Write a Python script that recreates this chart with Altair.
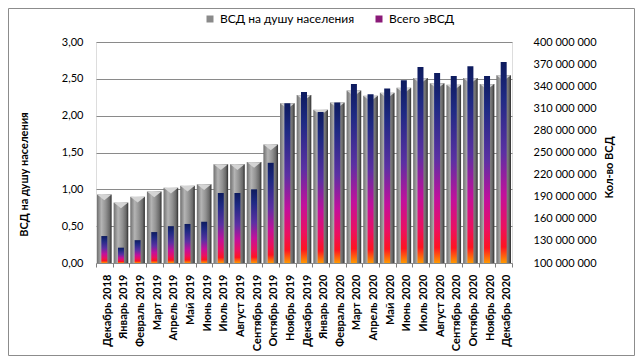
import altair as alt
import pandas as pd

months = ["Декабрь 2018", "Январь 2019", "Февраль 2019", "Март 2019", "Апрель 2019",
          "Май 2019", "Июнь 2019", "Июль 2019", "Август 2019", "Сентябрь 2019",
          "Октябрь 2019", "Ноябрь 2019", "Декабрь 2019", "Январь 2020", "Февраль 2020",
          "Март 2020", "Апрель 2020", "Май 2020", "Июнь 2020", "Июль 2020",
          "Август 2020", "Сентябрь 2020", "Октябрь 2020", "Ноябрь 2020", "Декабрь 2020"]
vsd_per_capita = [0.93, 0.82, 0.90, 0.97, 1.02, 1.05, 1.07, 1.34, 1.34, 1.37,
                  1.61, 2.17, 2.28, 2.08, 2.18, 2.34, 2.27, 2.31, 2.38, 2.51,
                  2.44, 2.42, 2.51, 2.43, 2.55]
evsd_total = [136600000, 120800000, 131000000, 142000000, 150000000, 153000000,
              156000000, 195000000, 195000000, 200000000, 236000000, 317000000,
              332000000, 305000000, 318000000, 343000000, 329000000, 337000000,
              348000000, 366000000, 358000000, 354000000, 367000000, 354000000,
              373000000]
series_names = ["ВСД на душу населения", "Всего эВСД"]
left_ticks = [0, 0.5, 1.0, 1.5, 2.0, 2.5, 3.0]
right_ticks = list(range(100000000, 400000001, 30000000))

df = pd.DataFrame({"month": months, "vsd": vsd_per_capita, "evsd": evsd_total})
leg_df = pd.DataFrame({"series": series_names})

W, H = 416, 221
FONT = "Lato"

xenc = alt.X("month:N", sort=months, title=None,
             scale=alt.Scale(paddingInner=0, paddingOuter=0),
             axis=alt.Axis(labelAngle=-90, labelAlign="right", labelBaseline="middle",
                           labelFontWeight="bold", labelFontSize=11, labelPadding=7,
                           labelOffset=3, labelColor="#000000", tickBand="extent",
                           ticks=True, tickSize=4, tickColor="#808080", domain=False,
                           labelFont=FONT))

gray_grad = alt.Gradient(gradient="linear", x1=0, x2=1, y1=0, y2=0, stops=[
    alt.GradientStop(color="#6f6f6f", offset=0),
    alt.GradientStop(color="#b4b4b4", offset=0.3),
    alt.GradientStop(color="#929292", offset=0.6),
    alt.GradientStop(color="#6a6a6a", offset=0.85),
    alt.GradientStop(color="#2e2e2e", offset=1)])

evsd_grad = alt.Gradient(gradient="linear", x1=0, x2=0, y1=0, y2=1, stops=[
    alt.GradientStop(color="#0d1b5e", offset=0),
    alt.GradientStop(color="#1f2a84", offset=0.18),
    alt.GradientStop(color="#5b30a3", offset=0.45),
    alt.GradientStop(color="#c2109c", offset=0.66),
    alt.GradientStop(color="#ec1060", offset=0.82),
    alt.GradientStop(color="#ff1420", offset=0.92),
    alt.GradientStop(color="#ff9a00", offset=1)])

left_axis = alt.Axis(values=left_ticks, grid=True, gridColor="#8a8a8a",
                     ticks=False, domain=False, labelPadding=13, labelOverlap=False,
                     labelFontSize=11, labelColor="#000000", labelFont=FONT,
                     labelExpr="replace(format(datum.value, '.2f'), '.', ',')",
                     title="ВСД на душу населения", titleFontSize=11,
                     titleFontWeight="bold", titleFont=FONT, titleColor="#000000",
                     titleX=-72, titleY=132, titleAngle=270,
                     titleAlign="center", titleBaseline="middle")
left_scale = alt.Scale(domain=[0, 3], nice=False, zero=True)

border = alt.Chart(pd.DataFrame({"a": [0]})).mark_rect(
    fill="transparent", stroke="#8c8c8c", strokeWidth=1, clip=False
).encode(x=alt.value(-87.5), x2=alt.value(W + 122.5),
         y=alt.value(-33.5), y2=alt.value(H + 92.5))

gray = alt.Chart(df).mark_bar(width=alt.RelativeBandSize(0.88), color=gray_grad).encode(
    x=xenc, y=alt.Y("vsd:Q", scale=left_scale, axis=left_axis))

cap = alt.Chart(df).mark_point(shape="M-1,-0.4L1,-0.4L0,0.4Z", filled=True, size=190,
                               color="#d4d4d4", opacity=1, yOffset=3,
                               strokeWidth=0).encode(
    x=xenc, y=alt.Y("vsd:Q", scale=left_scale, axis=left_axis))

legend_layer = alt.Chart(leg_df).mark_square(opacity=0).encode(
    x=alt.value(0), y=alt.value(0),
    color=alt.Color("series:N",
                    scale=alt.Scale(domain=series_names, range=["#8a8a8a", "#8a1a78"]),
                    legend=alt.Legend(orient="none", legendX=108, legendY=-29,
                                      direction="horizontal", title=None,
                                      symbolType="square", symbolSize=49,
                                      symbolOpacity=1, symbolStrokeWidth=0,
                                      labelFontSize=12, labelFont=FONT,
                                      labelColor="#000000", columnPadding=18,
                                      labelOffset=4)))

navy = alt.Chart(df).mark_bar(width=alt.RelativeBandSize(0.36), color=evsd_grad).encode(
    x=xenc,
    y=alt.Y("evsd:Q",
            scale=alt.Scale(domain=[100000000, 400000000], nice=False, zero=False),
            axis=alt.Axis(orient="right", values=right_ticks, grid=False, ticks=False,
                          domain=False, labelPadding=21, labelFontSize=11,
                          labelOverlap=False,
                          labelColor="#000000", labelFont=FONT,
                          labelExpr="format(datum.value / 1000000, 'd') + ' 000 000'",
                          title="Кол-во ВСД", titleFontSize=11, titleFontWeight="bold",
                          titleFont=FONT, titleColor="#000000",
                          titleX=97, titleY=125, titleAngle=270,
                          titleAlign="center", titleBaseline="middle")),
    y2=alt.datum(100000000))

left = alt.layer(border, gray, cap, legend_layer)

chart = alt.layer(left, navy).resolve_scale(y="independent").properties(
    width=W, height=H,
    padding={"left": 88, "top": 34, "right": 123, "bottom": 93},
    autosize=alt.AutoSizeParams(type="none"),
).configure_view(stroke="#808080", fill="#E9EEF7", strokeWidth=1).configure(
    background="#ffffff", font=FONT)

chart.save("out.html", embed_options={"renderer": "svg", "actions": False})
